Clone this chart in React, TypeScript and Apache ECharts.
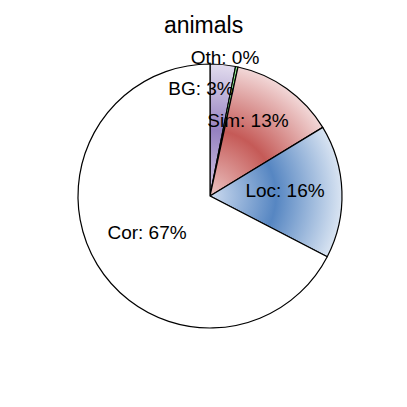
import React, { useEffect, useRef } from "react";
import * as echarts from "echarts";

const categories = ["BG", "Oth", "Sim", "Loc", "Cor"];
const values = [3.1, 0.3, 12.9, 16.3, 67.4];
const percentLabels = ["3%", "0%", "13%", "16%", "67%"];
const title = "animals";

const CX = 210;
const CY = 196;
const R = 132;

function radial(center: string, mid: string, light: string) {
  return {
    type: "radial",
    x: CX,
    y: CY,
    r: R,
    global: true,
    colorStops: [
      { offset: 0, color: center },
      { offset: 0.5, color: mid },
      { offset: 1, color: light },
    ],
  };
}

const sliceColors: any[] = [
  radial("#d4cae6", "#9581c0", "#e2dcee"),
  "#90ee90",
  radial("#ecc4c3", "#c55a57", "#f2d8d8"),
  radial("#cddbef", "#5686c2", "#d9e4f2"),
  "#ffffff",
];

const labelPos: [number, number][] = [
  [201, 88],
  [225, 57],
  [248, 120],
  [285, 190],
  [147, 232],
];

export default function App() {
  const ref = useRef<HTMLDivElement>(null);
  useEffect(() => {
    document.body.style.margin = "0";
    const chart = echarts.init(ref.current!, null, { renderer: "svg" });
    chart.setOption({
      animation: false,
      backgroundColor: "#ffffff",
      title: {
        text: title,
        left: "center",
        top: 8,
        textStyle: {
          fontSize: 23,
          fontWeight: "normal",
          color: "#000000",
          fontFamily: "Liberation Sans, Arial, sans-serif",
        },
      },
      series: [
        {
          type: "pie",
          center: [CX, CY],
          radius: [0, R],
          startAngle: 90,
          clockwise: true,
          minAngle: 0,
          avoidLabelOverlap: false,
          data: categories.map((c, i) => ({
            name: c,
            value: values[i],
            itemStyle: { color: sliceColors[i] },
          })),
          itemStyle: { borderColor: "#000000", borderWidth: 1.2 },
          label: {
            show: true,
            position: "inside",
            formatter: (p: any) => `${p.name}: ${percentLabels[p.dataIndex]}`,
            fontSize: 19,
            color: "#000000",
            fontFamily: "Liberation Sans, Arial, sans-serif",
          },
          labelLine: { show: false },
          labelLayout: (p: any) => ({
            x: labelPos[p.dataIndex][0],
            y: labelPos[p.dataIndex][1],
            align: "center",
            verticalAlign: "middle",
          }),
          emphasis: { disabled: true },
        },
      ],
    });
    return () => chart.dispose();
  }, []);
  return <div ref={ref} style={{ width: 407, height: 407 }} />;
}
